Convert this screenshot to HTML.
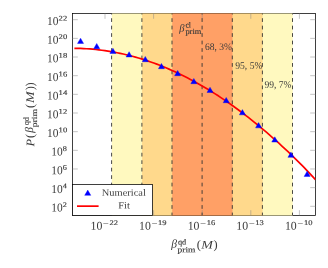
<!DOCTYPE html>
<html><head><meta charset="utf-8"><title>plot</title>
<style>html,body{margin:0;padding:0;background:#fff}body{width:328px;height:268px;overflow:hidden}</style></head>
<body>
<svg width="328" height="268" viewBox="0 0 328 268" style="display:block;will-change:transform">
<rect x="0" y="0" width="328" height="268" fill="#fff"/>
<defs><clipPath id="c"><rect x="72.5" y="13.5" width="243.0" height="202.0"/></clipPath></defs>
<rect x="72.5" y="13.5" width="243.0" height="202.0" fill="none" stroke="#000" stroke-width="0.75"/>
<rect x="111.80" y="13.1" width="180.90" height="202.80" fill="#FFF9BF"/>
<rect x="142.10" y="13.1" width="120.50" height="202.80" fill="#FFD98C"/>
<rect x="172.20" y="13.1" width="60.30" height="202.80" fill="#FFA066"/>
<path d="M111.6 13.5H292.5M111.6 215.5H292.5" stroke="#000" stroke-opacity="0.5" stroke-width="0.7" fill="none"/>
<path d="M105.00 215.5v-5.3M105.00 13.5v5.3" stroke="#888" stroke-width="0.5" fill="none"/>
<path d="M153.60 215.5v-5.3M153.60 13.5v5.3" stroke="#888" stroke-width="0.5" fill="none"/>
<path d="M202.20 215.5v-5.3M202.20 13.5v5.3" stroke="#888" stroke-width="0.5" fill="none"/>
<path d="M250.80 215.5v-5.3M250.80 13.5v5.3" stroke="#888" stroke-width="0.5" fill="none"/>
<path d="M299.40 215.5v-5.3M299.40 13.5v5.3" stroke="#888" stroke-width="0.5" fill="none"/>
<path d="M72.5 19.70h5.3M315.5 19.70h-5.3" stroke="#888" stroke-width="0.5" fill="none"/>
<path d="M72.5 38.36h5.3M315.5 38.36h-5.3" stroke="#888" stroke-width="0.5" fill="none"/>
<path d="M72.5 57.02h5.3M315.5 57.02h-5.3" stroke="#888" stroke-width="0.5" fill="none"/>
<path d="M72.5 75.68h5.3M315.5 75.68h-5.3" stroke="#888" stroke-width="0.5" fill="none"/>
<path d="M72.5 94.34h5.3M315.5 94.34h-5.3" stroke="#888" stroke-width="0.5" fill="none"/>
<path d="M72.5 113.00h5.3M315.5 113.00h-5.3" stroke="#888" stroke-width="0.5" fill="none"/>
<path d="M72.5 131.66h5.3M315.5 131.66h-5.3" stroke="#888" stroke-width="0.5" fill="none"/>
<path d="M72.5 150.32h5.3M315.5 150.32h-5.3" stroke="#888" stroke-width="0.5" fill="none"/>
<path d="M72.5 168.98h5.3M315.5 168.98h-5.3" stroke="#888" stroke-width="0.5" fill="none"/>
<path d="M72.5 187.64h5.3M315.5 187.64h-5.3" stroke="#888" stroke-width="0.5" fill="none"/>
<path d="M72.5 206.30h5.3M315.5 206.30h-5.3" stroke="#888" stroke-width="0.5" fill="none"/>
<line x1="111.6" y1="10.73" x2="111.6" y2="215.5" stroke="#333" stroke-width="0.9" stroke-dasharray="3.74 3.736" clip-path="url(#c)"/>
<line x1="141.9" y1="10.73" x2="141.9" y2="215.5" stroke="#333" stroke-width="0.9" stroke-dasharray="3.74 3.736" clip-path="url(#c)"/>
<line x1="172.0" y1="10.73" x2="172.0" y2="215.5" stroke="#333" stroke-width="0.9" stroke-dasharray="3.74 3.736" clip-path="url(#c)"/>
<line x1="202.1" y1="10.73" x2="202.1" y2="215.5" stroke="#333" stroke-width="0.9" stroke-dasharray="3.74 3.736" clip-path="url(#c)"/>
<line x1="232.3" y1="10.73" x2="232.3" y2="215.5" stroke="#333" stroke-width="0.9" stroke-dasharray="3.74 3.736" clip-path="url(#c)"/>
<line x1="262.4" y1="10.73" x2="262.4" y2="215.5" stroke="#333" stroke-width="0.9" stroke-dasharray="3.74 3.736" clip-path="url(#c)"/>
<line x1="292.5" y1="10.73" x2="292.5" y2="215.5" stroke="#333" stroke-width="0.9" stroke-dasharray="3.74 3.736" clip-path="url(#c)"/>
<path d="M74.40 48.31 L77.45 48.36 L80.50 48.45 L83.56 48.58 L86.61 48.75 L89.66 48.96 L92.71 49.21 L95.76 49.51 L98.82 49.84 L101.87 50.22 L104.92 50.64 L107.97 51.10 L111.02 51.60 L114.07 52.14 L117.13 52.72 L120.18 53.35 L123.23 54.02 L126.28 54.73 L129.33 55.48 L132.39 56.28 L135.44 57.11 L138.49 57.99 L141.54 58.91 L144.59 59.88 L147.65 60.88 L150.70 61.93 L153.75 63.02 L156.80 64.15 L159.85 65.33 L162.91 66.54 L165.96 67.80 L169.01 69.10 L172.06 70.44 L175.11 71.83 L178.16 73.25 L181.22 74.72 L184.27 76.23 L187.32 77.78 L190.37 79.38 L193.42 81.01 L196.48 82.69 L199.53 84.41 L202.58 86.17 L205.63 87.97 L208.68 89.81 L211.74 91.69 L214.79 93.62 L217.84 95.58 L220.89 97.59 L223.94 99.63 L226.99 101.72 L230.05 103.85 L233.10 106.01 L236.15 108.22 L239.20 110.47 L242.25 112.76 L245.31 115.08 L248.36 117.45 L251.41 119.85 L254.46 122.30 L257.51 124.78 L260.57 127.30 L263.62 129.86 L266.67 132.46 L269.72 135.09 L272.77 137.77 L275.83 140.48 L278.88 143.23 L281.93 146.01 L284.98 148.84 L288.03 151.70 L291.08 154.59 L294.14 157.54 L297.19 160.54 L300.24 163.59 L303.29 166.69 L306.34 169.85 L309.40 173.06 L312.45 176.32 L315.50 179.63" stroke="#f00" stroke-width="1.7" fill="none" clip-path="url(#c)"/>
<path d="M80.55 38.20L83.58 43.45L77.52 43.45Z" fill="#00f" stroke="#00f" stroke-width="0.4"/>
<path d="M96.73 43.45L99.77 48.70L93.70 48.70Z" fill="#00f" stroke="#00f" stroke-width="0.4"/>
<path d="M112.92 48.20L115.95 53.45L109.89 53.45Z" fill="#00f" stroke="#00f" stroke-width="0.4"/>
<path d="M129.10 51.70L132.14 56.95L126.07 56.95Z" fill="#00f" stroke="#00f" stroke-width="0.4"/>
<path d="M145.29 56.45L148.32 61.70L142.26 61.70Z" fill="#00f" stroke="#00f" stroke-width="0.4"/>
<path d="M161.47 63.45L164.51 68.70L158.44 68.70Z" fill="#00f" stroke="#00f" stroke-width="0.4"/>
<path d="M177.66 70.45L180.69 75.70L174.63 75.70Z" fill="#00f" stroke="#00f" stroke-width="0.4"/>
<path d="M193.84 78.45L196.88 83.70L190.81 83.70Z" fill="#00f" stroke="#00f" stroke-width="0.4"/>
<path d="M210.03 87.20L213.06 92.45L207.00 92.45Z" fill="#00f" stroke="#00f" stroke-width="0.4"/>
<path d="M226.21 97.45L229.25 102.70L223.18 102.70Z" fill="#00f" stroke="#00f" stroke-width="0.4"/>
<path d="M242.40 109.60L245.43 114.85L239.37 114.85Z" fill="#00f" stroke="#00f" stroke-width="0.4"/>
<path d="M258.58 122.60L261.62 127.85L255.55 127.85Z" fill="#00f" stroke="#00f" stroke-width="0.4"/>
<path d="M274.77 136.80L277.80 142.05L271.74 142.05Z" fill="#00f" stroke="#00f" stroke-width="0.4"/>
<path d="M290.95 152.10L293.99 157.35L287.92 157.35Z" fill="#00f" stroke="#00f" stroke-width="0.4"/>
<path d="M307.14 171.20L310.17 176.45L304.11 176.45Z" fill="#00f" stroke="#00f" stroke-width="0.4"/>
<rect x="72.5" y="184.6" width="80.0" height="30.90" fill="#fff" stroke="#000" stroke-width="0.75"/>
<path d="M87.75 190.10L90.78 195.35L84.72 195.35Z" fill="#00f" stroke="#00f" stroke-width="0.4"/>
<line x1="77" y1="206.15" x2="98.6" y2="206.15" stroke="#f00" stroke-width="1.7"/>
<text transform="rotate(0.05 123.80 195.80)" x="123.80" y="195.80" style="font-family:'Liberation Serif',serif;font-size:9.6px" fill="#3a3a3a" textLength="44" lengthAdjust="spacingAndGlyphs" text-anchor="middle">Numerical</text>
<text transform="rotate(0.05 124.00 208.50)" x="124.00" y="208.50" style="font-family:'Liberation Serif',serif;font-size:9.6px" fill="#3a3a3a" textLength="11.6" lengthAdjust="spacingAndGlyphs" text-anchor="middle">Fit</text>
<text transform="rotate(0.05 47.10 25.00)" x="47.10" y="25.00" style="font-family:'Liberation Serif',serif;font-size:12.0px" fill="#3a3a3a" textLength="11.4" lengthAdjust="spacingAndGlyphs">10</text>
<text transform="rotate(0.05 58.60 20.40)" x="58.60" y="20.40" style="font-family:'Liberation Serif',serif;font-size:7.1px" fill="#3a3a3a" textLength="8.6" lengthAdjust="spacingAndGlyphs" stroke="#3a3a3a" stroke-width="0.15">22</text>
<text transform="rotate(0.05 47.10 43.66)" x="47.10" y="43.66" style="font-family:'Liberation Serif',serif;font-size:12.0px" fill="#3a3a3a" textLength="11.4" lengthAdjust="spacingAndGlyphs">10</text>
<text transform="rotate(0.05 58.60 39.06)" x="58.60" y="39.06" style="font-family:'Liberation Serif',serif;font-size:7.1px" fill="#3a3a3a" textLength="8.6" lengthAdjust="spacingAndGlyphs" stroke="#3a3a3a" stroke-width="0.15">20</text>
<text transform="rotate(0.05 47.10 62.32)" x="47.10" y="62.32" style="font-family:'Liberation Serif',serif;font-size:12.0px" fill="#3a3a3a" textLength="11.4" lengthAdjust="spacingAndGlyphs">10</text>
<text transform="rotate(0.05 58.60 57.72)" x="58.60" y="57.72" style="font-family:'Liberation Serif',serif;font-size:7.1px" fill="#3a3a3a" textLength="8.6" lengthAdjust="spacingAndGlyphs" stroke="#3a3a3a" stroke-width="0.15">18</text>
<text transform="rotate(0.05 47.10 80.98)" x="47.10" y="80.98" style="font-family:'Liberation Serif',serif;font-size:12.0px" fill="#3a3a3a" textLength="11.4" lengthAdjust="spacingAndGlyphs">10</text>
<text transform="rotate(0.05 58.60 76.38)" x="58.60" y="76.38" style="font-family:'Liberation Serif',serif;font-size:7.1px" fill="#3a3a3a" textLength="8.6" lengthAdjust="spacingAndGlyphs" stroke="#3a3a3a" stroke-width="0.15">16</text>
<text transform="rotate(0.05 47.10 99.64)" x="47.10" y="99.64" style="font-family:'Liberation Serif',serif;font-size:12.0px" fill="#3a3a3a" textLength="11.4" lengthAdjust="spacingAndGlyphs">10</text>
<text transform="rotate(0.05 58.60 95.04)" x="58.60" y="95.04" style="font-family:'Liberation Serif',serif;font-size:7.1px" fill="#3a3a3a" textLength="8.6" lengthAdjust="spacingAndGlyphs" stroke="#3a3a3a" stroke-width="0.15">14</text>
<text transform="rotate(0.05 47.10 118.30)" x="47.10" y="118.30" style="font-family:'Liberation Serif',serif;font-size:12.0px" fill="#3a3a3a" textLength="11.4" lengthAdjust="spacingAndGlyphs">10</text>
<text transform="rotate(0.05 58.60 113.70)" x="58.60" y="113.70" style="font-family:'Liberation Serif',serif;font-size:7.1px" fill="#3a3a3a" textLength="8.6" lengthAdjust="spacingAndGlyphs" stroke="#3a3a3a" stroke-width="0.15">12</text>
<text transform="rotate(0.05 47.10 136.96)" x="47.10" y="136.96" style="font-family:'Liberation Serif',serif;font-size:12.0px" fill="#3a3a3a" textLength="11.4" lengthAdjust="spacingAndGlyphs">10</text>
<text transform="rotate(0.05 58.60 132.36)" x="58.60" y="132.36" style="font-family:'Liberation Serif',serif;font-size:7.1px" fill="#3a3a3a" textLength="8.6" lengthAdjust="spacingAndGlyphs" stroke="#3a3a3a" stroke-width="0.15">10</text>
<text transform="rotate(0.05 51.30 155.62)" x="51.30" y="155.62" style="font-family:'Liberation Serif',serif;font-size:12.0px" fill="#3a3a3a" textLength="11.4" lengthAdjust="spacingAndGlyphs">10</text>
<text transform="rotate(0.05 62.80 151.02)" x="62.80" y="151.02" style="font-family:'Liberation Serif',serif;font-size:7.1px" fill="#3a3a3a" textLength="4.1" lengthAdjust="spacingAndGlyphs" stroke="#3a3a3a" stroke-width="0.15">8</text>
<text transform="rotate(0.05 51.30 174.28)" x="51.30" y="174.28" style="font-family:'Liberation Serif',serif;font-size:12.0px" fill="#3a3a3a" textLength="11.4" lengthAdjust="spacingAndGlyphs">10</text>
<text transform="rotate(0.05 62.80 169.68)" x="62.80" y="169.68" style="font-family:'Liberation Serif',serif;font-size:7.1px" fill="#3a3a3a" textLength="4.1" lengthAdjust="spacingAndGlyphs" stroke="#3a3a3a" stroke-width="0.15">6</text>
<text transform="rotate(0.05 51.30 192.94)" x="51.30" y="192.94" style="font-family:'Liberation Serif',serif;font-size:12.0px" fill="#3a3a3a" textLength="11.4" lengthAdjust="spacingAndGlyphs">10</text>
<text transform="rotate(0.05 62.80 188.34)" x="62.80" y="188.34" style="font-family:'Liberation Serif',serif;font-size:7.1px" fill="#3a3a3a" textLength="4.1" lengthAdjust="spacingAndGlyphs" stroke="#3a3a3a" stroke-width="0.15">4</text>
<text transform="rotate(0.05 51.30 211.60)" x="51.30" y="211.60" style="font-family:'Liberation Serif',serif;font-size:12.0px" fill="#3a3a3a" textLength="11.4" lengthAdjust="spacingAndGlyphs">10</text>
<text transform="rotate(0.05 62.80 207.00)" x="62.80" y="207.00" style="font-family:'Liberation Serif',serif;font-size:7.1px" fill="#3a3a3a" textLength="4.1" lengthAdjust="spacingAndGlyphs" stroke="#3a3a3a" stroke-width="0.15">2</text>
<text transform="rotate(0.05 90.50 229.80)" x="90.50" y="229.80" style="font-family:'Liberation Serif',serif;font-size:12.0px" fill="#3a3a3a" textLength="11.8" lengthAdjust="spacingAndGlyphs">10</text>
<text transform="rotate(0.05 103.10 225.90)" x="103.10" y="225.90" style="font-family:'Liberation Serif',serif;font-size:7.1px" fill="#3a3a3a" textLength="5.6" lengthAdjust="spacingAndGlyphs" stroke="#3a3a3a" stroke-width="0.15">−</text>
<text transform="rotate(0.05 109.50 225.10)" x="109.50" y="225.10" style="font-family:'Liberation Serif',serif;font-size:7.1px" fill="#3a3a3a" textLength="8.5" lengthAdjust="spacingAndGlyphs" stroke="#3a3a3a" stroke-width="0.15">22</text>
<text transform="rotate(0.05 139.10 229.80)" x="139.10" y="229.80" style="font-family:'Liberation Serif',serif;font-size:12.0px" fill="#3a3a3a" textLength="11.8" lengthAdjust="spacingAndGlyphs">10</text>
<text transform="rotate(0.05 151.70 225.90)" x="151.70" y="225.90" style="font-family:'Liberation Serif',serif;font-size:7.1px" fill="#3a3a3a" textLength="5.6" lengthAdjust="spacingAndGlyphs" stroke="#3a3a3a" stroke-width="0.15">−</text>
<text transform="rotate(0.05 158.10 225.10)" x="158.10" y="225.10" style="font-family:'Liberation Serif',serif;font-size:7.1px" fill="#3a3a3a" textLength="8.5" lengthAdjust="spacingAndGlyphs" stroke="#3a3a3a" stroke-width="0.15">19</text>
<text transform="rotate(0.05 187.70 229.80)" x="187.70" y="229.80" style="font-family:'Liberation Serif',serif;font-size:12.0px" fill="#3a3a3a" textLength="11.8" lengthAdjust="spacingAndGlyphs">10</text>
<text transform="rotate(0.05 200.30 225.90)" x="200.30" y="225.90" style="font-family:'Liberation Serif',serif;font-size:7.1px" fill="#3a3a3a" textLength="5.6" lengthAdjust="spacingAndGlyphs" stroke="#3a3a3a" stroke-width="0.15">−</text>
<text transform="rotate(0.05 206.70 225.10)" x="206.70" y="225.10" style="font-family:'Liberation Serif',serif;font-size:7.1px" fill="#3a3a3a" textLength="8.5" lengthAdjust="spacingAndGlyphs" stroke="#3a3a3a" stroke-width="0.15">16</text>
<text transform="rotate(0.05 236.30 229.80)" x="236.30" y="229.80" style="font-family:'Liberation Serif',serif;font-size:12.0px" fill="#3a3a3a" textLength="11.8" lengthAdjust="spacingAndGlyphs">10</text>
<text transform="rotate(0.05 248.90 225.90)" x="248.90" y="225.90" style="font-family:'Liberation Serif',serif;font-size:7.1px" fill="#3a3a3a" textLength="5.6" lengthAdjust="spacingAndGlyphs" stroke="#3a3a3a" stroke-width="0.15">−</text>
<text transform="rotate(0.05 255.30 225.10)" x="255.30" y="225.10" style="font-family:'Liberation Serif',serif;font-size:7.1px" fill="#3a3a3a" textLength="8.5" lengthAdjust="spacingAndGlyphs" stroke="#3a3a3a" stroke-width="0.15">13</text>
<text transform="rotate(0.05 284.90 229.80)" x="284.90" y="229.80" style="font-family:'Liberation Serif',serif;font-size:12.0px" fill="#3a3a3a" textLength="11.8" lengthAdjust="spacingAndGlyphs">10</text>
<text transform="rotate(0.05 297.50 225.90)" x="297.50" y="225.90" style="font-family:'Liberation Serif',serif;font-size:7.1px" fill="#3a3a3a" textLength="5.6" lengthAdjust="spacingAndGlyphs" stroke="#3a3a3a" stroke-width="0.15">−</text>
<text transform="rotate(0.05 303.90 225.10)" x="303.90" y="225.10" style="font-family:'Liberation Serif',serif;font-size:7.1px" fill="#3a3a3a" textLength="8.5" lengthAdjust="spacingAndGlyphs" stroke="#3a3a3a" stroke-width="0.15">10</text>
<text transform="rotate(0.05 204.90 50.10)" x="204.90" y="50.10" style="font-family:'Liberation Serif',serif;font-size:10.0px" fill="#3a3a3a" textLength="27.0" lengthAdjust="spacingAndGlyphs">68, 3%</text>
<text transform="rotate(0.05 235.20 68.70)" x="235.20" y="68.70" style="font-family:'Liberation Serif',serif;font-size:10.0px" fill="#3a3a3a" textLength="27.3" lengthAdjust="spacingAndGlyphs">95, 5%</text>
<text transform="rotate(0.05 264.40 87.80)" x="264.40" y="87.80" style="font-family:'Liberation Serif',serif;font-size:10.0px" fill="#3a3a3a" textLength="27.0" lengthAdjust="spacingAndGlyphs">99, 7%</text>
<text transform="rotate(0.05 179.20 31.60)" x="179.20" y="31.60" style="font-family:'Liberation Serif',serif;font-size:10.6px;font-style:italic" fill="#3a3a3a">β</text>
<text transform="rotate(0.05 185.40 27.50)" x="185.40" y="27.50" style="font-family:'Liberation Serif',serif;font-size:7.8px" fill="#3a3a3a" stroke="#3a3a3a" stroke-width="0.15">cl</text>
<text transform="rotate(0.05 185.40 34.10)" x="185.40" y="34.10" style="font-family:'Liberation Serif',serif;font-size:7.8px" fill="#3a3a3a" textLength="15.9" lengthAdjust="spacingAndGlyphs" stroke="#3a3a3a" stroke-width="0.15">prim</text>
<g transform="translate(171,248.8)">
<text transform="rotate(0.05 0.30 -1.30)" x="0.30" y="-1.30" style="font-family:'Liberation Serif',serif;font-size:11.6px;font-style:italic" fill="#3a3a3a">β</text>
<text transform="rotate(0.05 6.90 -4.30)" x="6.90" y="-4.30" style="font-family:'Liberation Serif',serif;font-size:7.8px" fill="#3a3a3a" textLength="8.3" lengthAdjust="spacingAndGlyphs" stroke="#3a3a3a" stroke-width="0.15">qd</text>
<text transform="rotate(0.05 6.50 3.40)" x="6.50" y="3.40" style="font-family:'Liberation Serif',serif;font-size:7.8px" fill="#3a3a3a" textLength="17.9" lengthAdjust="spacingAndGlyphs" stroke="#3a3a3a" stroke-width="0.15">prim</text>
<text transform="rotate(0.05 25.70 -0.40)" x="25.70" y="-0.40" style="font-family:'Liberation Serif',serif;font-size:12.4px" fill="#3a3a3a">(</text>
<text transform="rotate(0.05 30.20 -0.30)" x="30.20" y="-0.30" style="font-family:'Liberation Serif',serif;font-size:11.6px;font-style:italic" fill="#3a3a3a" textLength="11.7" lengthAdjust="spacingAndGlyphs">M</text>
<text transform="rotate(0.05 42.40 -0.40)" x="42.40" y="-0.40" style="font-family:'Liberation Serif',serif;font-size:12.4px" fill="#3a3a3a">)</text>
</g>
<g transform="translate(34.3,146.3) rotate(-90)">
<text transform="rotate(0.05 -0.20 0.00)" x="-0.20" y="0.00" style="font-family:'Liberation Serif',serif;font-size:11.6px;font-style:italic" fill="#3a3a3a" textLength="7.6" lengthAdjust="spacingAndGlyphs">P</text>
<text transform="rotate(0.05 8.40 -0.40)" x="8.40" y="-0.40" style="font-family:'Liberation Serif',serif;font-size:12.4px" fill="#3a3a3a">(</text>
<text transform="rotate(0.05 13.60 -1.30)" x="13.60" y="-1.30" style="font-family:'Liberation Serif',serif;font-size:11.6px;font-style:italic" fill="#3a3a3a">β</text>
<text transform="rotate(0.05 21.00 -5.50)" x="21.00" y="-5.50" style="font-family:'Liberation Serif',serif;font-size:7.8px" fill="#3a3a3a" textLength="8.3" lengthAdjust="spacingAndGlyphs" stroke="#3a3a3a" stroke-width="0.15">qd</text>
<text transform="rotate(0.05 19.00 2.80)" x="19.00" y="2.80" style="font-family:'Liberation Serif',serif;font-size:7.8px" fill="#3a3a3a" textLength="18.3" lengthAdjust="spacingAndGlyphs" stroke="#3a3a3a" stroke-width="0.15">prim</text>
<text transform="rotate(0.05 38.20 -0.40)" x="38.20" y="-0.40" style="font-family:'Liberation Serif',serif;font-size:12.4px" fill="#3a3a3a">(</text>
<text transform="rotate(0.05 43.40 -0.30)" x="43.40" y="-0.30" style="font-family:'Liberation Serif',serif;font-size:11.6px;font-style:italic" fill="#3a3a3a" textLength="11.7" lengthAdjust="spacingAndGlyphs">M</text>
<text transform="rotate(0.05 56.10 -0.40)" x="56.10" y="-0.40" style="font-family:'Liberation Serif',serif;font-size:12.4px" fill="#3a3a3a">)</text>
<text transform="rotate(0.05 59.80 -0.40)" x="59.80" y="-0.40" style="font-family:'Liberation Serif',serif;font-size:12.4px" fill="#3a3a3a">)</text>
</g>
</svg>
</body></html>
